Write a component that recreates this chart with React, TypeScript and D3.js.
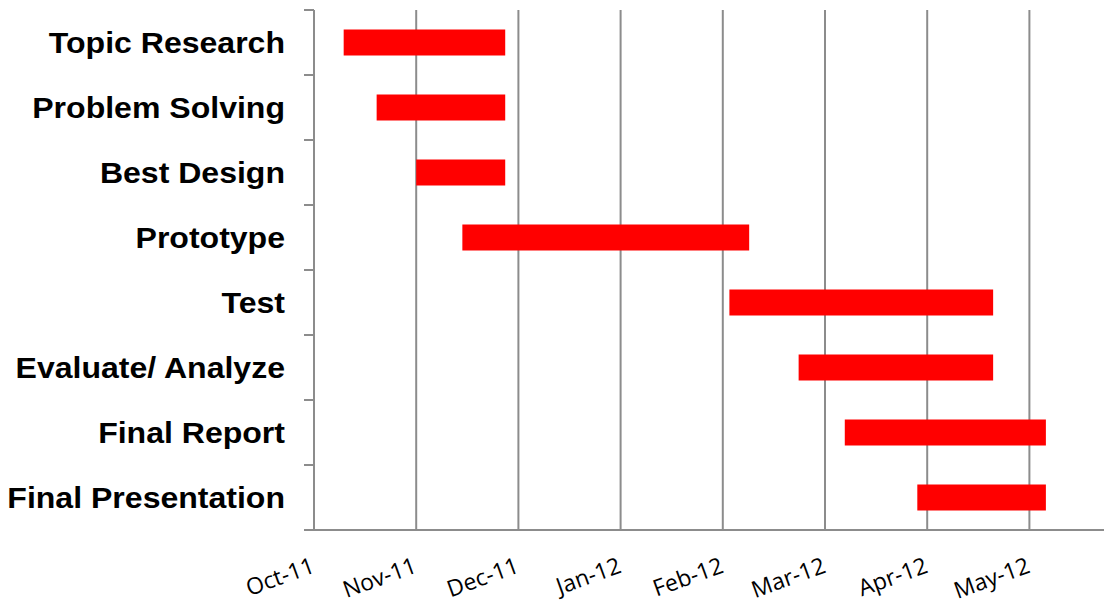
import React from "react";
import * as d3 from "d3";

// Project schedule (tasks top to bottom)
const tasks = [
  "Topic Research",
  "Problem Solving",
  "Best Design",
  "Prototype",
  "Test",
  "Evaluate/ Analyze",
  "Final Report",
  "Final Presentation",
];
const startDates = [
  "2011-10-10",
  "2011-10-20",
  "2011-11-01",
  "2011-11-15",
  "2012-02-04",
  "2012-02-25",
  "2012-03-10",
  "2012-04-01",
];
const endDates = [
  "2011-11-28",
  "2011-11-28",
  "2011-11-28",
  "2012-02-10",
  "2012-04-24",
  "2012-04-24",
  "2012-05-10",
  "2012-05-10",
];

// Axis ticks every 31 days from the first of October
const tickDates = [
  "2011-10-01",
  "2011-11-01",
  "2011-12-02",
  "2012-01-02",
  "2012-02-02",
  "2012-03-04",
  "2012-04-04",
  "2012-05-05",
];
const tickLabels = ["Oct-11", "Nov-11", "Dec-11", "Jan-12", "Feb-12", "Mar-12", "Apr-12", "May-12"];
const domainDates = ["2011-10-01", "2012-06-05"];

const parse = d3.utcParse("%Y-%m-%d");

const W = 1104;
const H = 604;
const left = 314;
const top = 10;
const bottom = 530;
const gridColor = "#8c8c8c";

export default function App() {
  const x = d3
    .scaleUtc()
    .domain(domainDates.map((d) => parse(d) as Date))
    .range([left, left + 8 * 102.2]);
  const y = d3
    .scaleBand<string>()
    .domain(tasks)
    .range([top, bottom])
    .paddingInner(0.6)
    .paddingOuter(0.3);
  const step = y.step();

  return (
    <svg
      width={W}
      height={H}
      style={{ position: "absolute", left: 0, top: 0, background: "#fff" }}
    >
      <rect width={W} height={H} fill="#fff" />
      {/* vertical gridlines */}
      {tickDates.map((t, i) => {
        const xx = x(parse(t) as Date);
        return (
          <line
            key={"g" + i}
            x1={xx}
            x2={xx}
            y1={top}
            y2={bottom}
            stroke={gridColor}
            strokeWidth={2}
          />
        );
      })}
      {/* task bars */}
      {tasks.map((t, i) => {
        const x0 = x(parse(startDates[i]) as Date);
        const x1 = x(parse(endDates[i]) as Date);
        return (
          <rect
            key={"b" + i}
            x={x0}
            y={y(t)}
            width={x1 - x0}
            height={y.bandwidth()}
            fill="#ff0000"
          />
        );
      })}
      {/* category axis */}
      <line x1={left} x2={left} y1={top} y2={bottom} stroke={gridColor} strokeWidth={2} />
      {d3.range(tasks.length + 1).map((i) => {
        const yy = top + i * step;
        return (
          <line
            key={"yt" + i}
            x1={left - 10}
            x2={left}
            y1={yy}
            y2={yy}
            stroke={gridColor}
            strokeWidth={2}
          />
        );
      })}
      {tasks.map((t, i) => {
        const cy = (y(t) as number) + y.bandwidth() / 2;
        return (
          <text
            key={"yl" + i}
            transform={`translate(${left - 29},${cy + 10}) scale(1.105,1)`}
            textAnchor="end"
            fontFamily="'Liberation Sans', Arial, sans-serif"
            fontWeight="bold"
            fontSize={29}
            fill="#000"
          >
            {t}
          </text>
        );
      })}
      {/* date axis */}
      <line x1={left - 10} x2={W} y1={bottom} y2={bottom} stroke={gridColor} strokeWidth={2} />
      {tickDates.map((t, i) => {
        const xx = x(parse(t) as Date);
        return (
          <text
            key={"xl" + i}
            transform={`translate(${xx + 2},${bottom + 42}) rotate(-20)`}
            textAnchor="end"
            fontFamily="'Open Sans', Calibri, sans-serif"
            fontSize={23}
            fill="#000"
          >
            {tickLabels[i]}
          </text>
        );
      })}
    </svg>
  );
}
